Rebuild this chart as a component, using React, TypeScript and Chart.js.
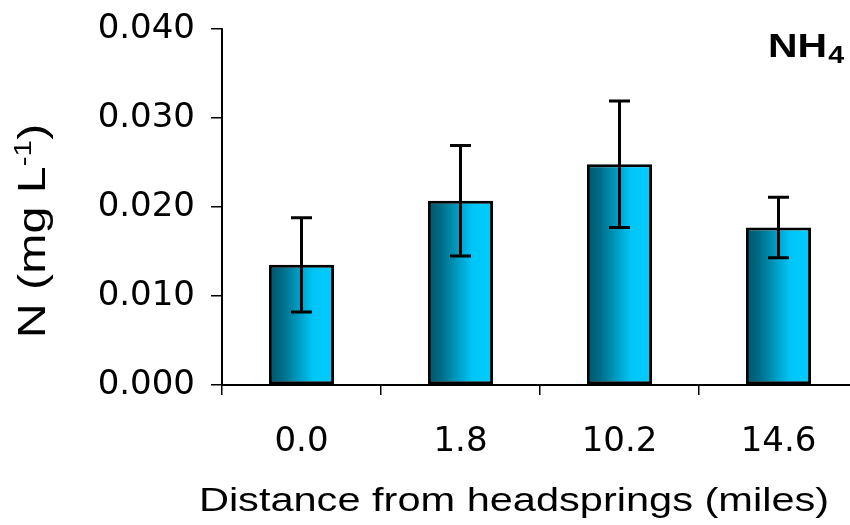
import React, { useEffect, useRef } from 'react';
import { Chart, registerables } from 'chart.js';

Chart.register(...registerables);

// ---- data ----
const categories = ['0.0', '1.8', '10.2', '14.6'];
const means = [0.0135, 0.0207, 0.0248, 0.0177];
const errors = [0.0053, 0.0062, 0.0071, 0.0034];
const yMin = 0;
const yMax = 0.04;
const yStep = 0.01;
const xTitle = 'Distance from headsprings (miles)';
const yTitleMain = 'N (mg L';
const yTitleSup = '-1';
const yTitleEnd = ')';
const panelLabel = 'NH';
const panelSub = '4';

const STRETCH = 1.24;
const ARIAL = '"Liberation Sans", Arial, Helvetica, sans-serif';
const TICKFONT = '"DejaVu Sans", sans-serif';

const errorBarPlugin = {
  id: 'errorBars',
  afterDatasetsDraw(chart: any) {
    const ctx = chart.ctx;
    const meta = chart.getDatasetMeta(0);
    const ys = chart.scales.y;
    ctx.save();
    ctx.strokeStyle = '#000';
    ctx.lineWidth = 3;
    meta.data.forEach((bar: any, i: number) => {
      const x = bar.x;
      const top = ys.getPixelForValue(means[i] + errors[i]);
      const bot = ys.getPixelForValue(means[i] - errors[i]);
      const cap = 10.5;
      ctx.beginPath();
      ctx.moveTo(x, top);
      ctx.lineTo(x, bot);
      ctx.moveTo(x - cap, top);
      ctx.lineTo(x + cap, top);
      ctx.moveTo(x - cap, bot);
      ctx.lineTo(x + cap, bot);
      ctx.stroke();
    });
    ctx.restore();
  },
};

const textPlugin = {
  id: 'texts',
  afterDraw(chart: any) {
    const ctx = chart.ctx;
    ctx.save();
    ctx.fillStyle = '#000';
    ctx.textBaseline = 'alphabetic';

    // x title
    ctx.save();
    ctx.font = `33.5px ${ARIAL}`;
    ctx.textAlign = 'center';
    ctx.translate(514, 511);
    ctx.scale(STRETCH, 1);
    ctx.fillText(xTitle, 0, 0);
    ctx.restore();

    // y title (rotated, with superscript)
    ctx.save();
    ctx.translate(45, 231);
    ctx.rotate(-Math.PI / 2);
    ctx.scale(STRETCH, 1);
    ctx.textAlign = 'left';
    const bigFont = `39px ${ARIAL}`;
    const supFont = `24px ${ARIAL}`;
    ctx.font = bigFont;
    const w1 = ctx.measureText(yTitleMain).width;
    const w3 = ctx.measureText(yTitleEnd).width;
    ctx.font = supFont;
    const w2 = ctx.measureText(yTitleSup).width;
    const start = -(w1 + w2 + w3) / 2;
    ctx.font = bigFont;
    ctx.fillText(yTitleMain, start, 0);
    ctx.font = supFont;
    ctx.fillText(yTitleSup, start + w1, -14);
    ctx.font = bigFont;
    ctx.fillText(yTitleEnd, start + w1 + w2, 0);
    ctx.restore();

    // panel label NH4
    ctx.save();
    ctx.translate(768, 57);
    ctx.scale(STRETCH, 1);
    ctx.textAlign = 'left';
    ctx.font = `bold 33px ${ARIAL}`;
    ctx.fillText(panelLabel, 0, 0);
    const wn = ctx.measureText(panelLabel).width;
    ctx.font = `bold 23px ${ARIAL}`;
    ctx.fillText(panelSub, wn + 1, 6);
    ctx.restore();

    ctx.restore();
  },
};

export default function App() {
  const canvasRef = useRef<HTMLCanvasElement | null>(null);

  useEffect(() => {
    const canvas = canvasRef.current;
    if (!canvas) return;
    const chart = new Chart(canvas, {
      type: 'bar',
      data: {
        labels: categories,
        datasets: [
          {
            data: means,
            backgroundColor: (c: any) => {
              const ch = c.chart;
              if (!ch.chartArea || !ch.scales.x) return '#00a8d8';
              const xs = ch.scales.x;
              const cx = xs.getPixelForValue(c.dataIndex);
              const half = ((xs.width / categories.length) * 0.41) / 2;
              const g = ch.ctx.createLinearGradient(cx - half, 0, cx + half, 0);
              g.addColorStop(0, '#00546a');
              g.addColorStop(0.2, '#006c86');
              g.addColorStop(0.68, '#00c6f6');
              g.addColorStop(1, '#00ccff');
              return g;
            },
            borderColor: '#000',
            borderWidth: 3,
            borderSkipped: false,
            barPercentage: 0.41,
            categoryPercentage: 1,
          } as any,
        ],
      },
      options: {
        responsive: false,
        animation: false,
        devicePixelRatio: 1,
        layout: { padding: { top: 29, right: 0, left: 0, bottom: 0 } },
        plugins: {
          legend: { display: false },
          tooltip: { enabled: false },
          title: { display: false },
        },
        scales: {
          x: {
            type: 'category',
            offset: true,
            grid: {
              offset: true,
              drawOnChartArea: false,
              drawTicks: true,
              tickLength: 10,
              color: '#000',
              lineWidth: 1.5,
            },
            border: { display: true, color: '#000', width: 2 },
            ticks: {
              color: '#000',
              font: { family: TICKFONT, size: 34 },
              padding: 27,
              maxRotation: 0,
              autoSkip: false,
            },
            afterFit: (s: any) => {
              s.height = 140;
              s.paddingLeft = 0;
              s.paddingRight = 0;
            },
          },
          y: {
            min: yMin,
            max: yMax,
            ticks: {
              stepSize: yStep,
              callback: (v: any) => Number(v).toFixed(3),
              color: '#000',
              font: { family: TICKFONT, size: 34 },
              padding: 16,
            },
            grid: {
              drawOnChartArea: false,
              drawTicks: true,
              tickLength: 11,
              color: '#000',
              lineWidth: 1.5,
            },
            border: { display: true, color: '#000', width: 2 },
            afterFit: (s: any) => {
              s.width = 222;
              s.paddingTop = 0;
              s.paddingBottom = 0;
            },
          },
        },
      } as any,
      plugins: [errorBarPlugin, textPlugin],
    });
    return () => chart.destroy();
  }, []);

  return (
    <div
      style={{
        position: 'fixed',
        left: 0,
        top: 0,
        width: 850,
        height: 525,
        overflow: 'hidden',
        background: '#fff',
      }}
    >
      <canvas ref={canvasRef} width={858} height={525} style={{ display: 'block' }} />
    </div>
  );
}
